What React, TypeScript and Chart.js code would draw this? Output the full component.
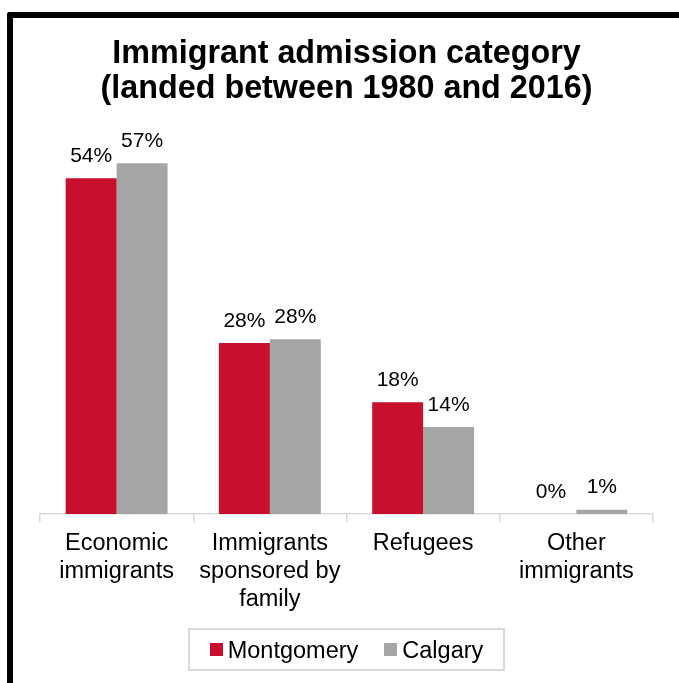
import React, { useEffect, useRef } from "react";
import { Chart, registerables } from "chart.js";

Chart.register(...registerables);

const titleLines = ["Immigrant admission category", "(landed between 1980 and 2016)"];
const categories = [
  ["Economic", "immigrants"],
  ["Immigrants", "sponsored by", "family"],
  ["Refugees"],
  ["Other", "immigrants"],
];
const seriesNames = ["Montgomery", "Calgary"];
const montgomery = [54.4, 27.7, 18.1, 0];
const calgary = [56.8, 28.3, 14.1, 0.7];
const seriesColors = ["#C8102E", "#A5A5A5"];

const FONT = '"Liberation Sans", Arial, sans-serif';

const valueLabels = {
  id: "valueLabels",
  afterDatasetsDraw(chart: any) {
    const ctx = chart.ctx;
    ctx.save();
    ctx.font = `21px ${FONT}`;
    ctx.fillStyle = "#000";
    ctx.textAlign = "center";
    ctx.textBaseline = "middle";
    chart.data.datasets.forEach((ds: any, i: number) => {
      const meta = chart.getDatasetMeta(i);
      meta.data.forEach((bar: any, j: number) => {
        const v = ds.data[j];
        ctx.fillText(Math.round(v) + "%", bar.x, bar.y - 22);
      });
    });
    ctx.restore();
  },
};

export default function App() {
  const canvasRef = useRef<HTMLCanvasElement | null>(null);

  useEffect(() => {
    if (!canvasRef.current) return;
    const chart = new Chart(canvasRef.current, {
      type: "bar",
      data: {
        labels: categories,
        datasets: [
          {
            label: seriesNames[0],
            data: montgomery,
            backgroundColor: seriesColors[0],
            borderWidth: 0,
            categoryPercentage: 0.665,
            barPercentage: 1,
          },
          {
            label: seriesNames[1],
            data: calgary,
            backgroundColor: seriesColors[1],
            borderWidth: 0,
            categoryPercentage: 0.665,
            barPercentage: 1,
          },
        ],
      },
      options: {
        responsive: false,
        animation: false,
        layout: { padding: { left: 40, right: 26, top: 0, bottom: 0 } },
        plugins: {
          legend: { display: false },
          tooltip: { enabled: false },
          title: {
            display: true,
            text: titleLines,
            color: "#000",
            font: { family: FONT, size: 32.3, weight: "bold", lineHeight: 1.09 },
            padding: { top: 36.4, bottom: 36.8 },
          },
        },
        scales: {
          x: {
            grid: {
              display: true,
              drawOnChartArea: false,
              drawTicks: true,
              tickLength: 8,
              color: "#d9d9d9",
              lineWidth: 1.5,
              offset: true,
            },
            border: { display: true, color: "#d9d9d9", width: 1.5 },
            ticks: {
              color: "#000",
              font: { family: FONT, size: 23.5, lineHeight: 1.18 },
              padding: 8,
              maxRotation: 0,
              autoSkip: false,
            },
            afterFit: (scale: any) => {
              scale.height = 169;
            },
          },
          y: {
            display: false,
            min: 0,
            max: 60,
          },
        },
      },
      plugins: [valueLabels],
    });
    return () => chart.destroy();
  }, []);

  return (
    <div
      style={{
        position: "absolute",
        left: 0,
        top: 0,
        width: 679,
        height: 683,
        background: "#fff",
        overflow: "hidden",
      }}
    >
      <div
        style={{
          position: "absolute",
          left: 7,
          top: 12,
          width: 700,
          height: 700,
          borderLeft: "6px solid #000",
          borderTop: "6px solid #000",
          borderTopLeftRadius: 3,
        }}
      />
      <canvas
        ref={canvasRef}
        width={679}
        height={683}
        style={{ position: "absolute", left: 0, top: 0, width: 679, height: 683 }}
      />
      <div
        style={{
          position: "absolute",
          left: 188,
          top: 628,
          width: 317,
          height: 43,
          boxSizing: "border-box",
          border: "2px solid #d9d9d9",
          display: "flex",
          alignItems: "center",
          justifyContent: "center",
          fontFamily: FONT,
          fontSize: 23.5,
          color: "#000",
        }}
      >
        {seriesNames.map((name, i) => (
          <div
            key={name}
            style={{
              display: "flex",
              alignItems: "center",
              marginLeft: i === 0 ? 0 : 26,
            }}
          >
            <span
              style={{
                display: "inline-block",
                width: 13,
                height: 13,
                background: seriesColors[i],
                marginRight: 5,
              }}
            />
            <span style={{ lineHeight: "26px" }}>{name}</span>
          </div>
        ))}
      </div>
    </div>
  );
}
